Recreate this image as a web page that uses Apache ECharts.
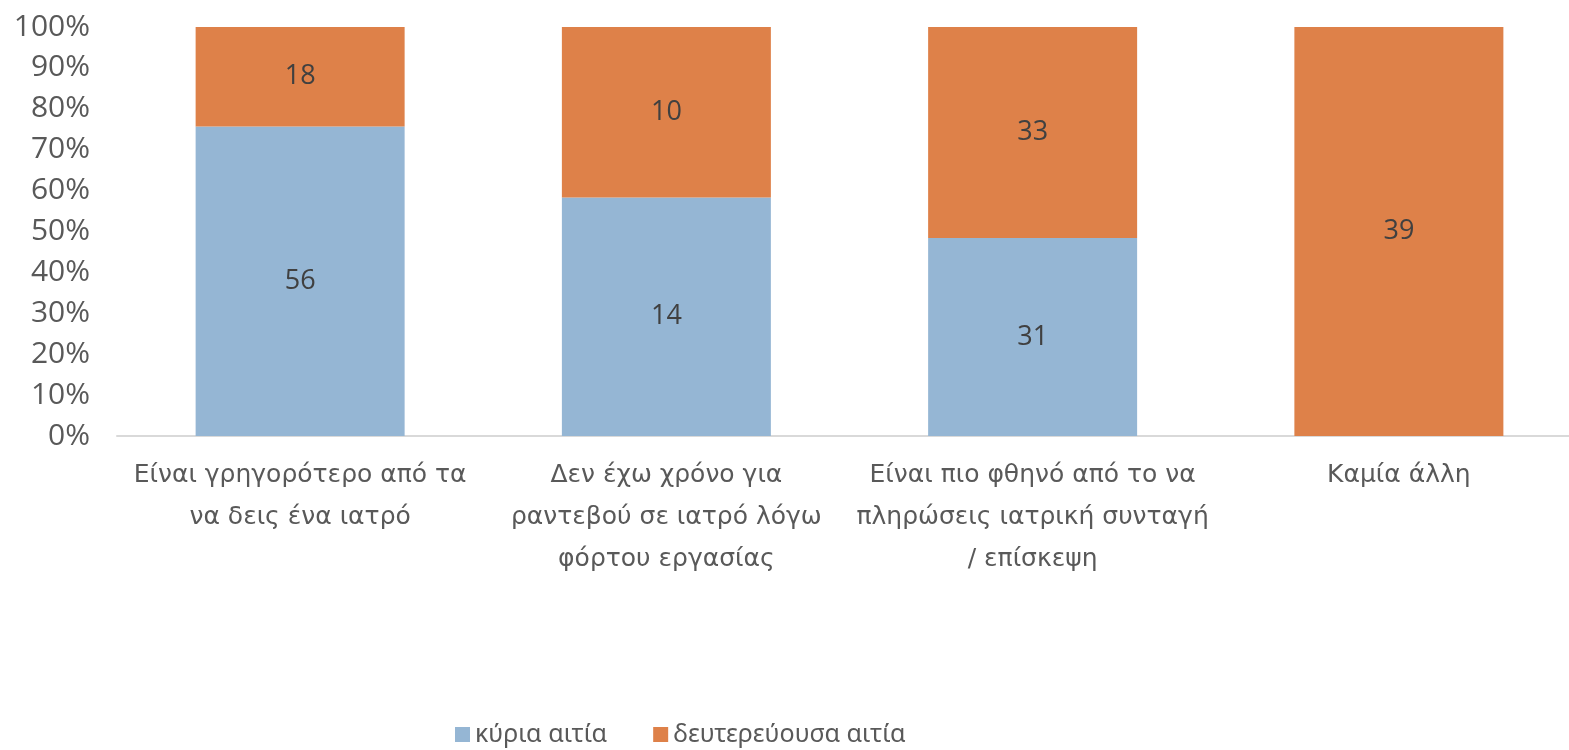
<!DOCTYPE html>
<html>
<head>
<meta charset="utf-8">
<script src="https://cdn.jsdelivr.net/npm/echarts@6/dist/echarts.min.js"></script>
<style>
  html, body { margin: 0; padding: 0; background: #fff; }
  #chart { width: 1569px; height: 750px; }
</style>
</head>
<body>
<div id="chart"></div>
<script>
// κατηγορίες και τιμές
const categories = [
    'Είναι γρηγορότερο από τα\nνα δεις ένα ιατρό',
    'Δεν έχω χρόνο για\nραντεβού σε ιατρό λόγω\nφόρτου εργασίας',
    'Είναι πιο φθηνό από το να\nπληρώσεις ιατρική συνταγή\n/ επίσκεψη',
    'Καμία άλλη'
];
const seriesNames = ['κύρια αιτία', 'δευτερεύουσα αιτία'];
const mainCause = [56, 14, 31, 0];
const secondaryCause = [18, 10, 33, 39];
const yTicks = [0, 10, 20, 30, 40, 50, 60, 70, 80, 90, 100];

const COLORS = ['#95B6D4', '#DE8149'];

// μετατροπή σε ποσοστά 100%
const totals = mainCause.map((v, i) => v + secondaryCause[i]);
const toPct = arr => arr.map((v, i) => ({ value: totals[i] ? v / totals[i] * 100 : 0, raw: v }));

const chart = echarts.init(document.getElementById('chart'));

const labelOpt = {
    show: true,
    position: 'inside',
    color: '#404040',
    fontSize: 27,
    fontFamily: '"Open Sans", sans-serif',
    formatter: p => (p.data.raw ? String(p.data.raw) : '')
};

chart.setOption({
    animation: false,
    grid: { left: 117, top: 27, width: 1465, height: 409, outerBoundsMode: 'none', containLabel: false },
    legend: {
        bottom: -2,
        left: 450,
        itemWidth: 15,
        itemHeight: 15,
        itemGap: 46,
        icon: 'rect',
        textStyle: { color: '#595959', fontSize: 25, fontFamily: '"Noto Sans", sans-serif' },
        data: seriesNames
    },
    xAxis: {
        type: 'category',
        data: categories,
        axisLine: { lineStyle: { color: '#D9D9D9', width: 2 } },
        axisTick: { show: false },
        axisLabel: {
            color: '#595959',
            fontSize: 25,
            lineHeight: 42,
            margin: 18,
            interval: 0,
            fontFamily: '"DejaVu Sans", sans-serif'
        }
    },
    yAxis: {
        type: 'value',
        min: yTicks[0],
        max: yTicks[yTicks.length - 1],
        interval: 10,
        splitLine: { show: false },
        axisLine: { show: false },
        axisTick: { show: false },
        axisLabel: {
            color: '#595959',
            fontSize: 30,
            margin: 27,
            fontFamily: '"Open Sans", sans-serif',
            formatter: '{value}%'
        }
    },
    series: [
        {
            name: seriesNames[0],
            type: 'bar',
            stack: 'total',
            barWidth: 209,
            itemStyle: { color: COLORS[0] },
            label: labelOpt,
            data: toPct(mainCause)
        },
        {
            name: seriesNames[1],
            type: 'bar',
            stack: 'total',
            barWidth: 209,
            itemStyle: { color: COLORS[1] },
            label: labelOpt,
            data: toPct(secondaryCause)
        }
    ]
});
</script>
</body>
</html>
